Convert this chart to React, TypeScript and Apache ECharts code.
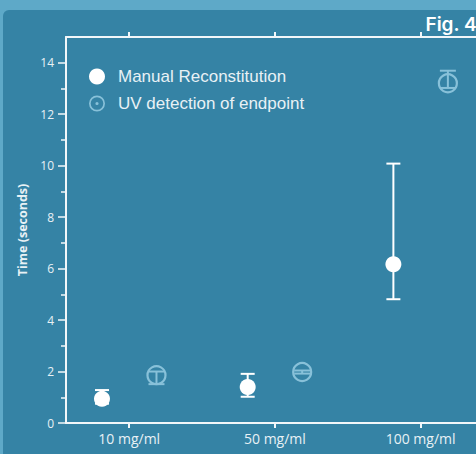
import React, { useEffect, useRef } from "react";
import * as echarts from "echarts";

const categories = ["10 mg/ml", "50 mg/ml", "100 mg/ml"];
const manualMean = [0.94, 1.4, 6.17];
const manualLow = [0.75, 1.02, 4.81];
const manualHigh = [1.28, 1.91, 10.08];
const uvMean = [1.86, 1.98, 13.2];
const uvLow = [1.51, 1.92, 13.02];
const uvHigh = [2.0, 2.04, 13.69];
const yLabelTicks = [0, 2, 4, 6, 8, 10, 12, 14];
const yMinorTicks = [1, 3, 5, 7, 9, 11, 13];

const OFFSET = 0.187;
const AXIS_COLOR = "#f2f7fa";
const UV_COLOR = "#88c1d9";
const TEXT_COLOR = "#e8f1f5";

const ringPath =
  "path://M0,-8A8,8,0,1,1,0,8A8,8,0,1,1,0,-8ZM0,-6.3A6.3,6.3,0,1,0,0,6.3A6.3,6.3,0,1,0,0,-6.3ZM0,-1.6A1.6,1.6,0,1,1,0,1.6A1.6,1.6,0,1,1,0,-1.6Z";

function errorRenderer(color: string, cap: number) {
  return (params: any, api: any) => {
    const x = api.value(0);
    const lo = api.coord([x, api.value(1)]);
    const hi = api.coord([x, api.value(2)]);
    const hw = cap / 2;
    const style = { stroke: color, lineWidth: 2 };
    return {
      type: "group",
      children: [
        { type: "line", shape: { x1: lo[0], y1: lo[1], x2: hi[0], y2: hi[1] }, style },
        { type: "line", shape: { x1: lo[0] - hw, y1: lo[1], x2: lo[0] + hw, y2: lo[1] }, style },
        { type: "line", shape: { x1: hi[0] - hw, y1: hi[1], x2: hi[0] + hw, y2: hi[1] }, style },
      ],
    };
  };
}

export default function App() {
  const ref = useRef<HTMLDivElement>(null);
  useEffect(() => {
    document.body.style.margin = "0";
    if (!ref.current) return;
    const chart = echarts.init(ref.current, undefined, { renderer: "svg" });
    const xMin = 0.566;
    const xMax = 3.38;
    const manualErr = categories.map((_, i) => [i + 1 - OFFSET, manualLow[i], manualHigh[i]]);
    const uvErr = categories.map((_, i) => [i + 1 + OFFSET, uvLow[i], uvHigh[i]]);
    const manualPts = categories.map((_, i) => [i + 1 - OFFSET, manualMean[i]]);
    const uvPts = categories.map((_, i) => [i + 1 + OFFSET, uvMean[i]]);
    chart.setOption({
      animation: false,
      backgroundColor: "transparent",
      grid: { left: 66, right: 0, top: 37, bottom: 31 },
      graphic: [
        {
          type: "text",
          right: -1,
          top: 15,
          style: {
            text: "Fig. 4",
            fill: "#ffffff",
            font: "600 19px Inter, 'Open Sans', sans-serif",
          },
        },
      ],
      legend: {
        orient: "vertical",
        left: 84,
        top: 63,
        itemWidth: 32,
        itemHeight: 16,
        itemGap: 10,
        symbolKeepAspect: true,
        textStyle: { color: TEXT_COLOR, fontSize: 17, fontFamily: "'Liberation Sans', Arial, sans-serif" },
        data: [
          { name: "Manual Reconstitution", icon: "circle", itemStyle: { color: "#ffffff" } },
          {
            name: "UV detection of endpoint",
            icon: ringPath,
            itemStyle: { color: UV_COLOR, borderWidth: 0 },
          },
        ],
      },
      xAxis: [
        {
          type: "value",
          position: "bottom",
          min: xMin,
          max: xMax,
          splitLine: { show: false },
          axisLine: { show: true, onZero: false, lineStyle: { color: AXIS_COLOR, width: 2 } },
          axisTick: { show: true, customValues: [1, 2, 3], length: 5, lineStyle: { color: AXIS_COLOR, width: 2 } },
          axisLabel: {
            customValues: [1, 2, 3],
            formatter: (v: number) => categories[Math.round(v) - 1] ?? "",
            color: TEXT_COLOR,
            fontSize: 14,
            fontFamily: "'Open Sans', sans-serif",
            margin: 8,
          },
        },
        {
          type: "value",
          position: "top",
          min: xMin,
          max: xMax,
          splitLine: { show: false },
          axisLine: { show: true, onZero: false, lineStyle: { color: AXIS_COLOR, width: 2 } },
          axisTick: { show: true, customValues: [1, 2, 3], length: 5, lineStyle: { color: AXIS_COLOR, width: 2 } },
          axisLabel: { show: false },
        },
      ],
      yAxis: [
        {
          type: "value",
          position: "left",
          min: 0,
          max: 15,
          interval: 1,
          splitLine: { show: false },
          name: "Time (seconds)",
          nameLocation: "middle",
          nameGap: 37,
          nameTextStyle: {
            color: TEXT_COLOR,
            fontSize: 12.5,
            fontWeight: "bold",
            fontFamily: "'Open Sans', sans-serif",
          },
          axisLine: { show: true, onZero: false, lineStyle: { color: AXIS_COLOR, width: 2 } },
          axisTick: { show: true, customValues: yLabelTicks, length: 8, lineStyle: { color: AXIS_COLOR, width: 1.5 } },
          axisLabel: {
            customValues: yLabelTicks,
            color: TEXT_COLOR,
            fontSize: 12,
            fontFamily: "'Open Sans', sans-serif",
            margin: 12,
          },
        },
        {
          type: "value",
          position: "left",
          min: 0,
          max: 15,
          interval: 1,
          splitLine: { show: false },
          axisLine: { show: false },
          axisTick: { show: true, customValues: yMinorTicks, length: 5, lineStyle: { color: AXIS_COLOR, width: 1.5 } },
          axisLabel: { show: false },
        },
      ],
      series: [
        {
          name: "manual-err",
          type: "custom",
          xAxisIndex: 0,
          yAxisIndex: 0,
          renderItem: errorRenderer("#ffffff", 14),
          encode: { x: 0, y: [1, 2] },
          data: manualErr,
          z: 2,
        },
        {
          name: "uv-err",
          type: "custom",
          xAxisIndex: 0,
          yAxisIndex: 0,
          renderItem: errorRenderer(UV_COLOR, 16),
          encode: { x: 0, y: [1, 2] },
          data: uvErr,
          z: 2,
        },
        {
          name: "Manual Reconstitution",
          type: "scatter",
          symbol: "circle",
          symbolSize: 16,
          itemStyle: { color: "#ffffff", opacity: 1 },
          data: manualPts,
          z: 3,
        },
        {
          name: "UV detection of endpoint",
          type: "scatter",
          symbol: "circle",
          symbolSize: 18,
          itemStyle: { color: "rgba(0,0,0,0)", borderColor: UV_COLOR, borderWidth: 2.2, opacity: 1 },
          data: uvPts,
          z: 3,
        },
      ],
    });
    return () => chart.dispose();
  }, []);

  return (
    <div style={{ position: "relative", width: 476, height: 454, background: "#5ea9c8", overflow: "hidden" }}>
      <div
        style={{
          position: "absolute",
          left: 3,
          top: 10,
          right: 0,
          bottom: 0,
          background: "#3583a5",
          borderTopLeftRadius: 6,
        }}
      />
      <div ref={ref} style={{ position: "absolute", left: 0, top: 0, width: 476, height: 454 }} />
    </div>
  );
}
